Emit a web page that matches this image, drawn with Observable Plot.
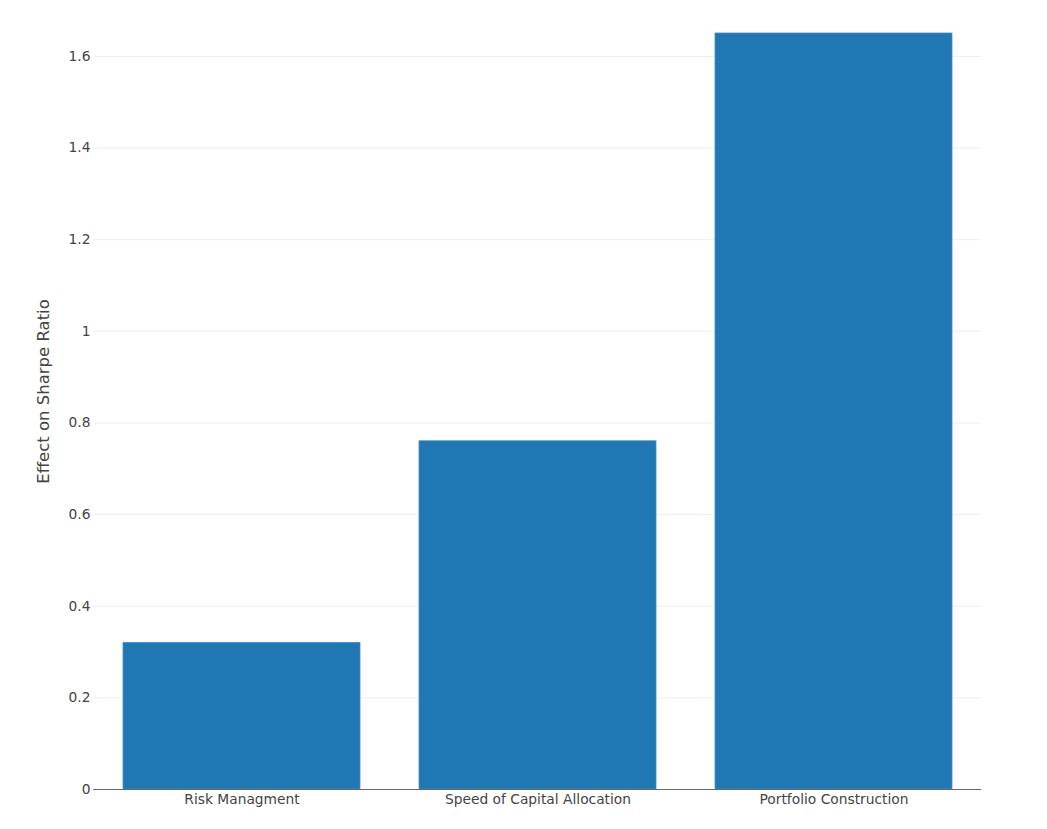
<!DOCTYPE html>
<html>
<head>
<meta charset="utf-8">
<script src="https://cdn.jsdelivr.net/npm/d3@7"></script>
<script src="https://cdn.jsdelivr.net/npm/@observablehq/plot@0.6"></script>
<style>
  html, body { margin: 0; padding: 0; background: #fff; }
  #chart { width: 1047px; height: 829px; }
</style>
</head>
<body>
<div id="chart"></div>
<script>
const categories = ["Risk Managment", "Speed of Capital Allocation", "Portfolio Construction"];
const values = [0.32, 0.76, 1.65];
const yTicks = [0, 0.2, 0.4, 0.6, 0.8, 1, 1.2, 1.4, 1.6];
const yLabel = "Effect on Sharpe Ratio";

const data = categories.map((c, i) => ({category: c, value: values[i]}));

const chart = Plot.plot({
  width: 1047,
  height: 829,
  marginLeft: 93,
  marginRight: 66,
  marginTop: 33,
  marginBottom: 40,
  style: {fontFamily: "'DejaVu Sans', Verdana, sans-serif", fontSize: "13.8px", color: "#444", background: "#fff"},
  x: {domain: categories, paddingInner: 0.2, paddingOuter: 0.1, label: null, tickSize: 0, tickPadding: 5},
  y: {domain: [0, 1.65], ticks: yTicks, label: null, tickSize: 0, tickPadding: 3,
      tickFormat: d => String(d)},
  marks: [
    Plot.gridY(yTicks.filter(d => d > 0), {stroke: "#eee", strokeOpacity: 1}),
    Plot.barY(data, {x: "category", y: "value", fill: "#1f77b4", stroke: "#4a8fc4", strokeWidth: 0.8}),
    Plot.ruleY([0], {stroke: "#666", strokeWidth: 1}),
    Plot.text([yLabel], {frameAnchor: "left", textAnchor: "middle", dx: -50, dy: -20, rotate: -90, text: d => d, fontSize: 16.5, fill: "#444"})
  ]
});
document.getElementById("chart").appendChild(chart);
</script>
</body>
</html>
